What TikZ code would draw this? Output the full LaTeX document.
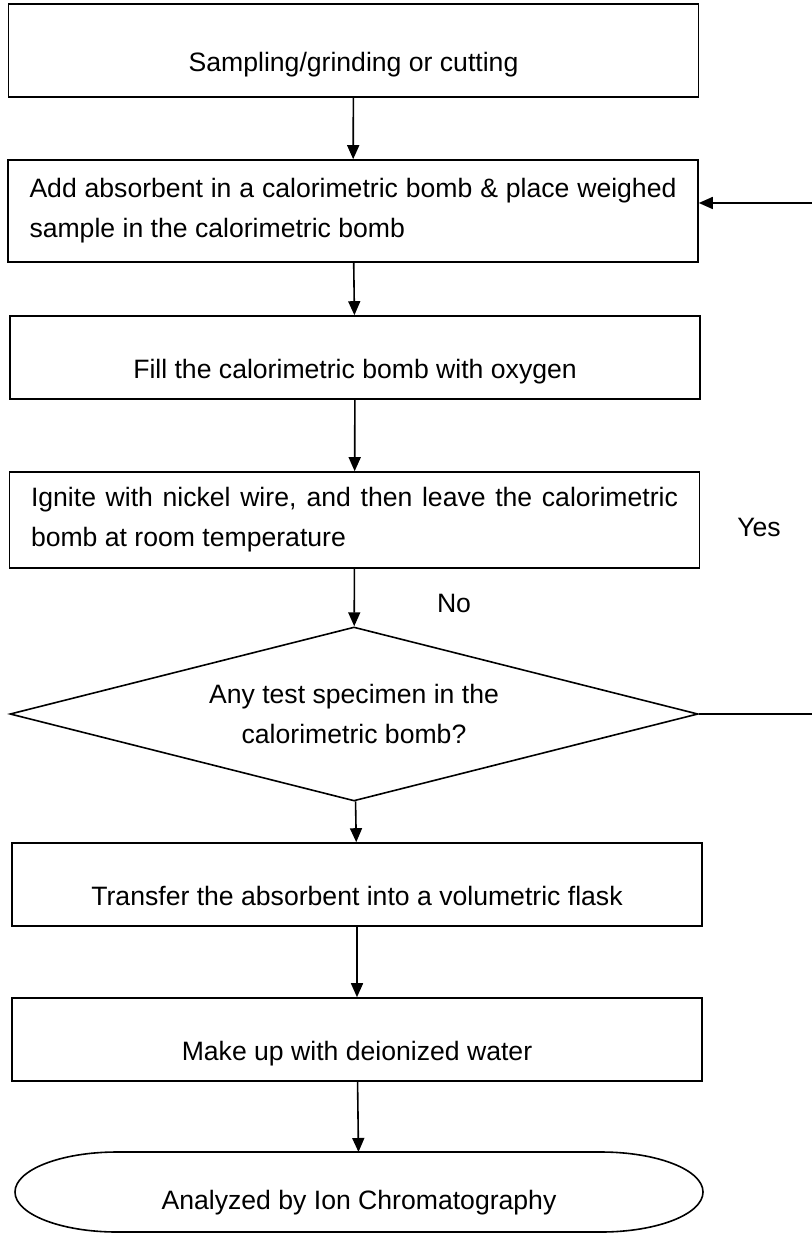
\documentclass[tikz,border=0pt]{standalone}
\usepackage{fontspec}
\setmainfont{Liberation Sans}
\usetikzlibrary{shapes.geometric, arrows.meta, positioning}
\tikzstyle{every node}=[font=\fontsize{13.3}{20}\selectfont]
\tikzstyle{block}=[draw,rectangle,minimum width=345pt,inner sep=0pt]
\tikzstyle{oneline}=[text height=21pt,text depth=0pt]
\tikzstyle{twoline}=[text width=323.5pt,align=justify]
\tikzstyle{decision}=[draw,diamond,aspect=3.95,minimum width=344pt,minimum height=87pt,inner sep=0pt,align=center]

\begin{document}
\begin{tikzpicture}[x=0.5pt,y=-0.5pt,line width=0.8pt,>={Triangle[length=7pt,width=6pt]}]
  \useasboundingbox (0,0) rectangle (811,1234);
  \node[block,oneline,minimum height=46.5pt] (sampling) at (353.5,50.5) {Sampling/grinding or cutting};
  \node[block,twoline,minimum height=51pt] (absorb) at (353,211) {Add absorbent in a calorimetric bomb \& place weighed\linebreak sample in the calorimetric bomb};
  \node[block,oneline,minimum height=41.5pt] (oxygen) at (355,357.5) {Fill the calorimetric bomb with oxygen};
  \node[block,twoline,minimum height=48pt] (ignite) at (354.5,520) {Ignite with nickel wire, and then leave the calorimetric\linebreak bomb at room temperature};
  \node[decision] (check) at (354,714) {Any test specimen in the\\calorimetric bomb?};
  \node[block,oneline,minimum height=41.5pt] (transfer) at (357,884.5) {Transfer the absorbent into a volumetric flask};
  \node[block,oneline,minimum height=41.5pt] (makeup) at (357,1039.5) {Make up with deionized water};
  \node[minimum width=344pt,minimum height=40pt,inner sep=0pt,outer sep=0pt,text height=17pt,text depth=0pt] (ic) at (359,1192) {Analyzed by Ion Chromatography};
  \draw ([xshift=51pt]ic.north west) -- ([xshift=-51pt]ic.north east)
    arc[start angle=90,end angle=-90,x radius=51pt,y radius=20pt]
    -- ([xshift=51pt]ic.south west)
    arc[start angle=270,end angle=90,x radius=51pt,y radius=20pt] -- cycle;
  % labels
  \node (yes) at (759,527) {Yes};
  \node (no) at (454,603) {No};
  % connectors
  \draw[->] (sampling) -- (absorb);
  \draw[->] (absorb) -- (oxygen);
  \draw[->] (oxygen) -- (ignite);
  \draw[->] (ignite) -- (check);
  \draw[->] (check) -- (transfer);
  \draw[->] (transfer) -- (makeup);
  \draw[->] (makeup) -- (ic);
  \coordinate (back) at (815,203);
  \draw[->] (check.east) -| (back) -- (absorb.east |- back);
\end{tikzpicture}
\end{document}
